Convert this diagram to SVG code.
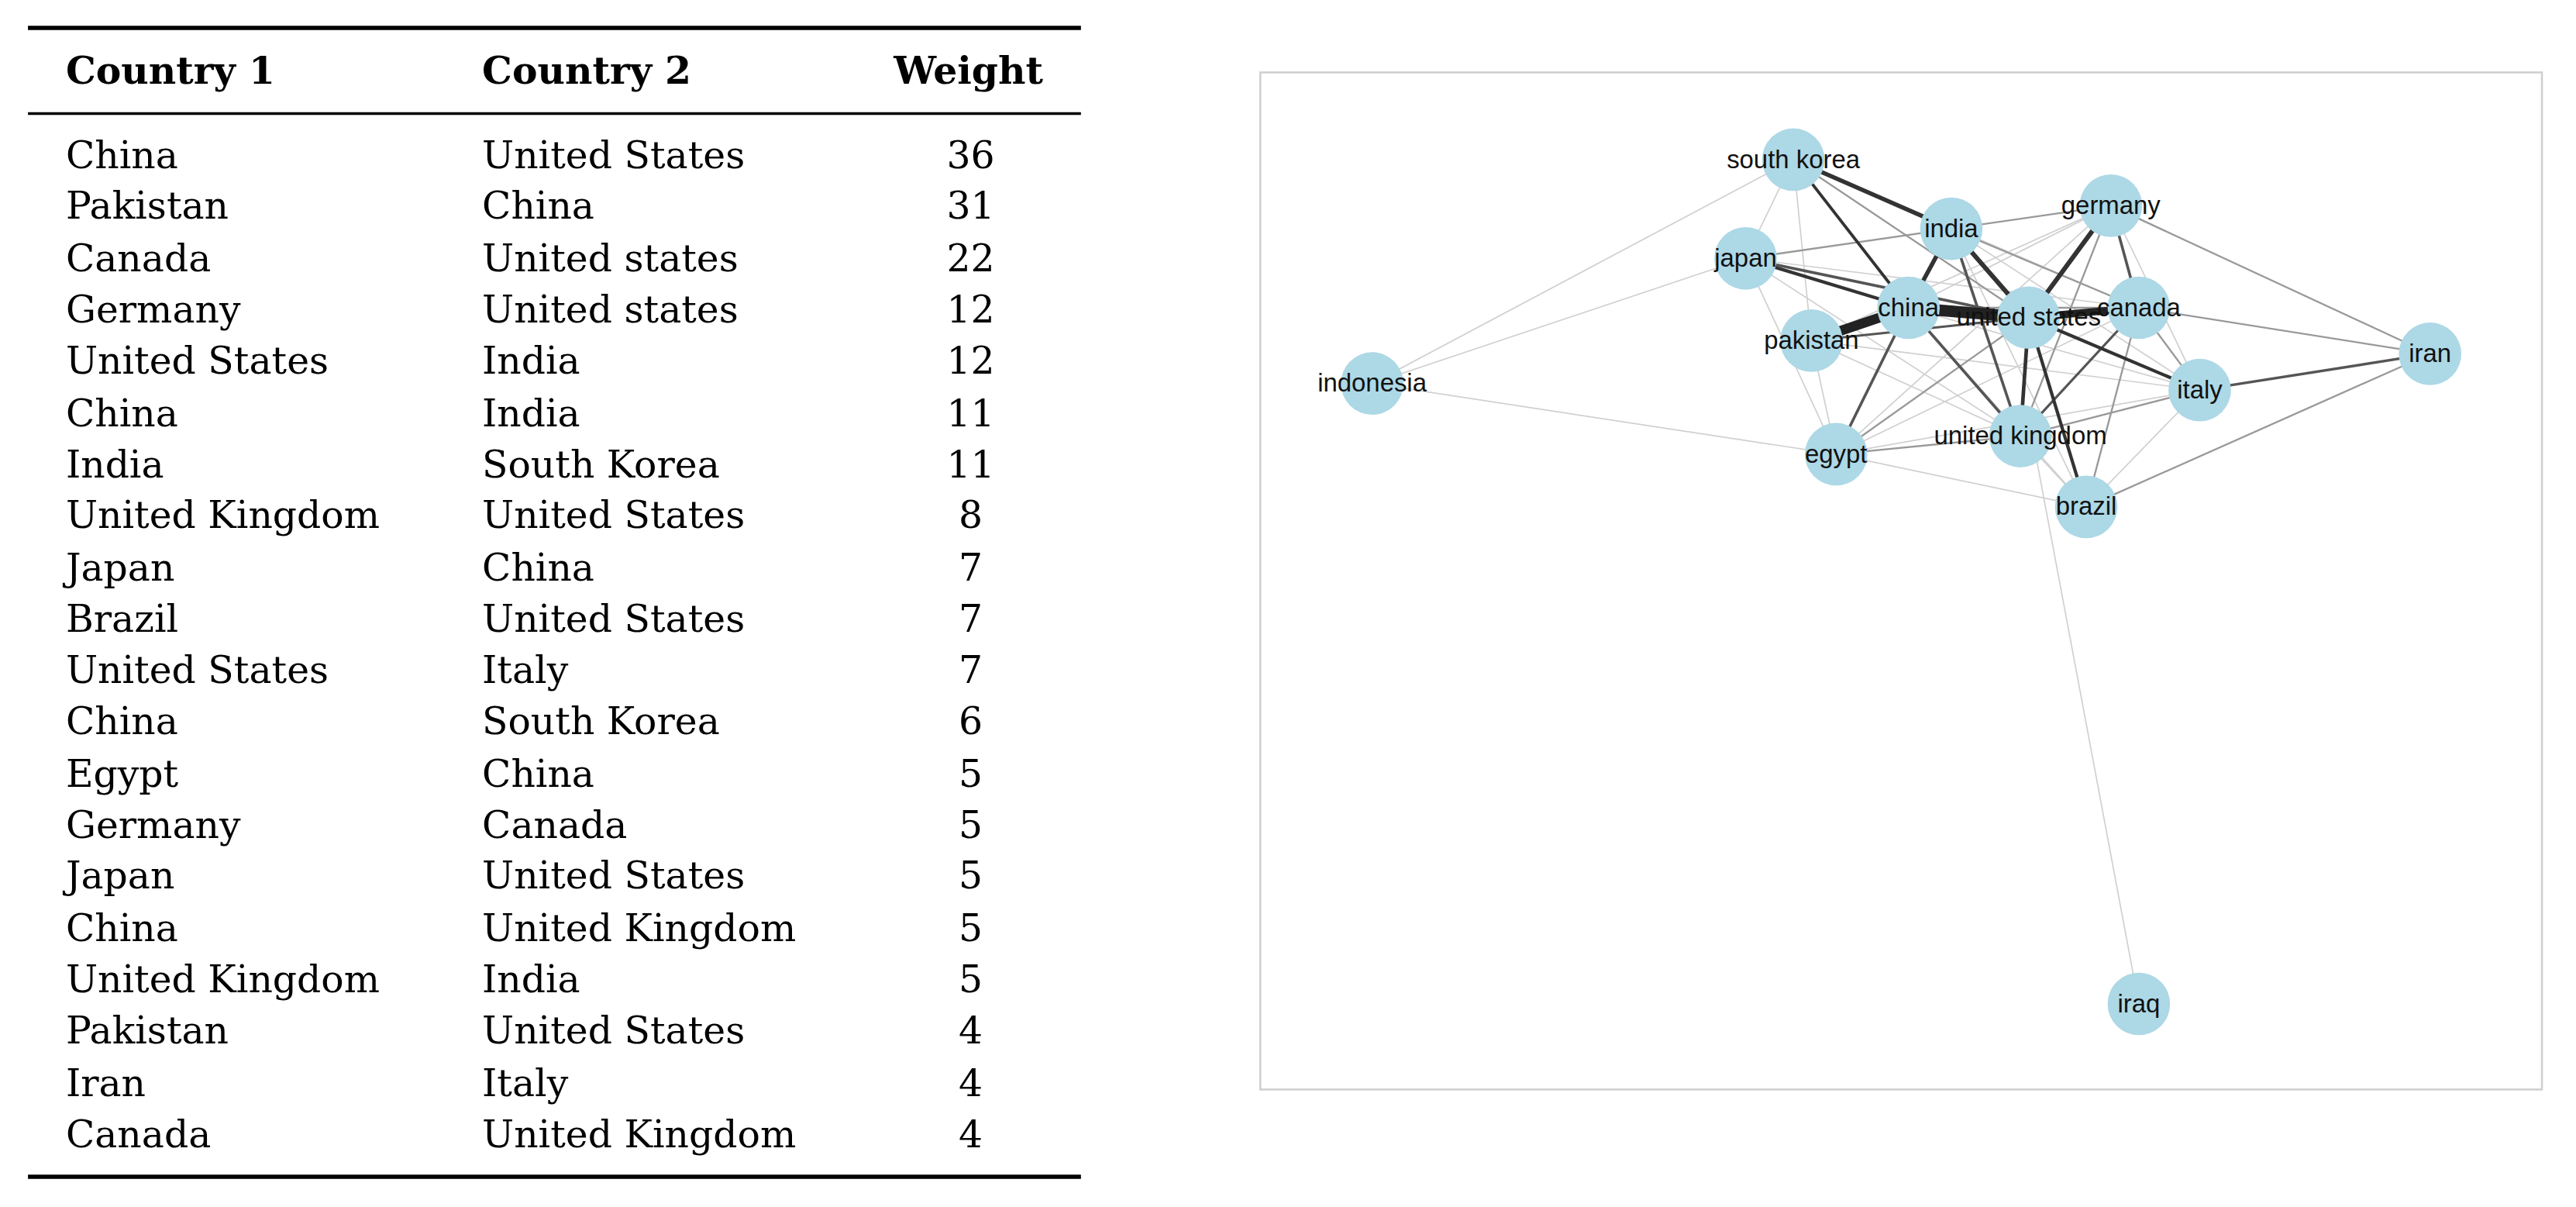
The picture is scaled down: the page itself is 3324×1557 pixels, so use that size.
<svg xmlns="http://www.w3.org/2000/svg" width="3324" height="1557" viewBox="0 0 3324 1557">
<style>
.t{font-family:"DejaVu Serif","Liberation Serif",serif;font-size:23px;fill:#000}
.h{font-weight:bold}
.w{text-anchor:middle}
.n circle{fill:#add8e6}
.n text{font-family:"Liberation Sans",Arial,sans-serif;font-size:15.5px;fill:#111;text-anchor:middle}
.e line{stroke-linecap:round}
</style>
<rect width="3324" height="1557" fill="#fff"/>
<g transform="scale(2.123)">
<g id="table">
<line x1="17" y1="17" x2="657" y2="17" stroke="#000" stroke-width="2.6"/>
<line x1="17" y1="69" x2="657" y2="69" stroke="#000" stroke-width="1.6"/>
<line x1="17" y1="715" x2="657" y2="715" stroke="#000" stroke-width="2.6"/>
<text class="t h" x="40" y="51">Country 1</text><text class="t h" x="293" y="51">Country 2</text><text class="t h" x="634" y="51" text-anchor="end">Weight</text>
<g class="t">
<text x="40" y="102">China</text><text x="293" y="102">United States</text><text class="w" x="590" y="102">36</text>
<text x="40" y="133">Pakistan</text><text x="293" y="133">China</text><text class="w" x="590" y="133">31</text>
<text x="40" y="165">Canada</text><text x="293" y="165">United states</text><text class="w" x="590" y="165">22</text>
<text x="40" y="196">Germany</text><text x="293" y="196">United states</text><text class="w" x="590" y="196">12</text>
<text x="40" y="227">United States</text><text x="293" y="227">India</text><text class="w" x="590" y="227">12</text>
<text x="40" y="259">China</text><text x="293" y="259">India</text><text class="w" x="590" y="259">11</text>
<text x="40" y="290">India</text><text x="293" y="290">South Korea</text><text class="w" x="590" y="290">11</text>
<text x="40" y="321">United Kingdom</text><text x="293" y="321">United States</text><text class="w" x="590" y="321">8</text>
<text x="40" y="353">Japan</text><text x="293" y="353">China</text><text class="w" x="590" y="353">7</text>
<text x="40" y="384">Brazil</text><text x="293" y="384">United States</text><text class="w" x="590" y="384">7</text>
<text x="40" y="415">United States</text><text x="293" y="415">Italy</text><text class="w" x="590" y="415">7</text>
<text x="40" y="446">China</text><text x="293" y="446">South Korea</text><text class="w" x="590" y="446">6</text>
<text x="40" y="478">Egypt</text><text x="293" y="478">China</text><text class="w" x="590" y="478">5</text>
<text x="40" y="509">Germany</text><text x="293" y="509">Canada</text><text class="w" x="590" y="509">5</text>
<text x="40" y="540">Japan</text><text x="293" y="540">United States</text><text class="w" x="590" y="540">5</text>
<text x="40" y="572">China</text><text x="293" y="572">United Kingdom</text><text class="w" x="590" y="572">5</text>
<text x="40" y="603">United Kingdom</text><text x="293" y="603">India</text><text class="w" x="590" y="603">5</text>
<text x="40" y="634">Pakistan</text><text x="293" y="634">United States</text><text class="w" x="590" y="634">4</text>
<text x="40" y="666">Iran</text><text x="293" y="666">Italy</text><text class="w" x="590" y="666">4</text>
<text x="40" y="697">Canada</text><text x="293" y="697">United Kingdom</text><text class="w" x="590" y="697">4</text>
</g>
</g>
<rect x="766" y="44" width="779" height="618" fill="none" stroke="#cfcfcf" stroke-width="1.2"/>
<g id="edges" class="e">
<g stroke="#d0d0d0" stroke-width="0.8">
<line x1="1090" y1="97" x2="834" y2="233"/><line x1="1061" y1="157" x2="834" y2="233"/><line x1="834" y1="233" x2="1116" y2="276"/>
<line x1="1238" y1="280" x2="1300" y2="610"/><line x1="1116" y1="276" x2="1268" y2="308"/>
<line x1="1090" y1="97" x2="1061" y2="157"/><line x1="1090" y1="97" x2="1101" y2="207"/><line x1="1090" y1="97" x2="1300" y2="187"/>
<line x1="1061" y1="157" x2="1116" y2="276"/><line x1="1061" y1="157" x2="1300" y2="187"/><line x1="1101" y1="207" x2="1116" y2="276"/>
<line x1="1101" y1="207" x2="1337" y2="237"/><line x1="1101" y1="207" x2="1228" y2="265"/><line x1="1116" y1="276" x2="1283" y2="125"/>
<line x1="1116" y1="276" x2="1300" y2="187"/><line x1="1116" y1="276" x2="1337" y2="237"/><line x1="1160" y1="187" x2="1283" y2="125"/>
<line x1="1160" y1="187" x2="1337" y2="237"/><line x1="1160" y1="187" x2="1268" y2="308"/><line x1="1186" y1="139" x2="1337" y2="237"/>
<line x1="1186" y1="139" x2="1268" y2="308"/><line x1="1283" y1="125" x2="1337" y2="237"/><line x1="1228" y1="265" x2="1268" y2="308"/>
<line x1="1337" y1="237" x2="1268" y2="308"/><line x1="1101" y1="207" x2="1283" y2="125"/><line x1="1061" y1="157" x2="1228" y2="265"/>
</g>
<g stroke="#999" stroke-width="1.1">
<line x1="1283" y1="125" x2="1477" y2="215"/><line x1="1300" y1="187" x2="1477" y2="215"/><line x1="1268" y1="308" x2="1477" y2="215"/>
<line x1="1090" y1="97" x2="1233" y2="193"/><line x1="1186" y1="139" x2="1300" y2="187"/><line x1="1228" y1="265" x2="1337" y2="237"/>
<line x1="1116" y1="276" x2="1228" y2="265"/><line x1="1233" y1="193" x2="1116" y2="276"/><line x1="1228" y1="265" x2="1283" y2="125"/>
<line x1="1300" y1="187" x2="1268" y2="308"/><line x1="1300" y1="187" x2="1337" y2="237"/><line x1="1061" y1="157" x2="1186" y2="139"/>
<line x1="1186" y1="139" x2="1283" y2="125"/><line x1="1160" y1="187" x2="1300" y2="187"/>
</g>
<g stroke="#555">
<line x1="1337" y1="237" x2="1477" y2="215" stroke-width="1.6"/>
<line x1="1300" y1="187" x2="1228" y2="265" stroke-width="1.5"/>
<line x1="1101" y1="207" x2="1233" y2="193" stroke-width="1.5"/>
<line x1="1186" y1="139" x2="1228" y2="265" stroke-width="1.7"/>
<line x1="1160" y1="187" x2="1228" y2="265" stroke-width="1.7"/>
<line x1="1116" y1="276" x2="1160" y2="187" stroke-width="1.7"/>
<line x1="1283" y1="125" x2="1300" y2="187" stroke-width="1.7"/>
<line x1="1061" y1="157" x2="1233" y2="193" stroke-width="1.7"/>
</g>
<g stroke="#333">
<line x1="1090" y1="97" x2="1160" y2="187" stroke-width="1.8"/>
<line x1="1061" y1="157" x2="1160" y2="187" stroke-width="2"/>
<line x1="1268" y1="308" x2="1233" y2="193" stroke-width="2"/>
<line x1="1233" y1="193" x2="1337" y2="237" stroke-width="2"/>
<line x1="1228" y1="265" x2="1233" y2="193" stroke-width="2.2"/>
<line x1="1186" y1="139" x2="1090" y2="97" stroke-width="2.6"/>
<line x1="1160" y1="187" x2="1186" y2="139" stroke-width="2.6"/>
<line x1="1233" y1="193" x2="1186" y2="139" stroke-width="2.8"/>
<line x1="1233" y1="193" x2="1283" y2="125" stroke-width="2.8"/>
</g>
<g stroke="#222">
<line x1="1300" y1="187" x2="1233" y2="193" stroke-width="4.5"/>
<line x1="1101" y1="207" x2="1160" y2="187" stroke-width="6"/>
<line x1="1160" y1="187" x2="1233" y2="193" stroke-width="7"/>
</g>
</g>
<g class="n">
<g id="n-south-korea"><circle cx="1090" cy="97" r="19"/><text x="1090" y="102">south korea</text></g>
<g id="n-india"><circle cx="1186" cy="139" r="19"/><text x="1186" y="144">india</text></g>
<g id="n-germany"><circle cx="1283" cy="125" r="19"/><text x="1283" y="130">germany</text></g>
<g id="n-japan"><circle cx="1061" cy="157" r="19"/><text x="1061" y="162">japan</text></g>
<g id="n-china"><circle cx="1160" cy="187" r="19"/><text x="1160" y="192">china</text></g>
<g id="n-canada"><circle cx="1300" cy="187" r="19"/><text x="1300" y="192">canada</text></g>
<g id="n-united-states"><circle cx="1233" cy="193" r="19"/><text x="1233" y="198">united states</text></g>
<g id="n-pakistan"><circle cx="1101" cy="207" r="19"/><text x="1101" y="212">pakistan</text></g>
<g id="n-indonesia"><circle cx="834" cy="233" r="19"/><text x="834" y="238">indonesia</text></g>
<g id="n-iran"><circle cx="1477" cy="215" r="19"/><text x="1477" y="220">iran</text></g>
<g id="n-italy"><circle cx="1337" cy="237" r="19"/><text x="1337" y="242">italy</text></g>
<g id="n-united-kingdom"><circle cx="1228" cy="265" r="19"/><text x="1228" y="270">united kingdom</text></g>
<g id="n-egypt"><circle cx="1116" cy="276" r="19"/><text x="1116" y="281">egypt</text></g>
<g id="n-brazil"><circle cx="1268" cy="308" r="19"/><text x="1268" y="313">brazil</text></g>
<g id="n-iraq"><circle cx="1300" cy="610" r="19"/><text x="1300" y="615">iraq</text></g>
</g>
</g>
</svg>
